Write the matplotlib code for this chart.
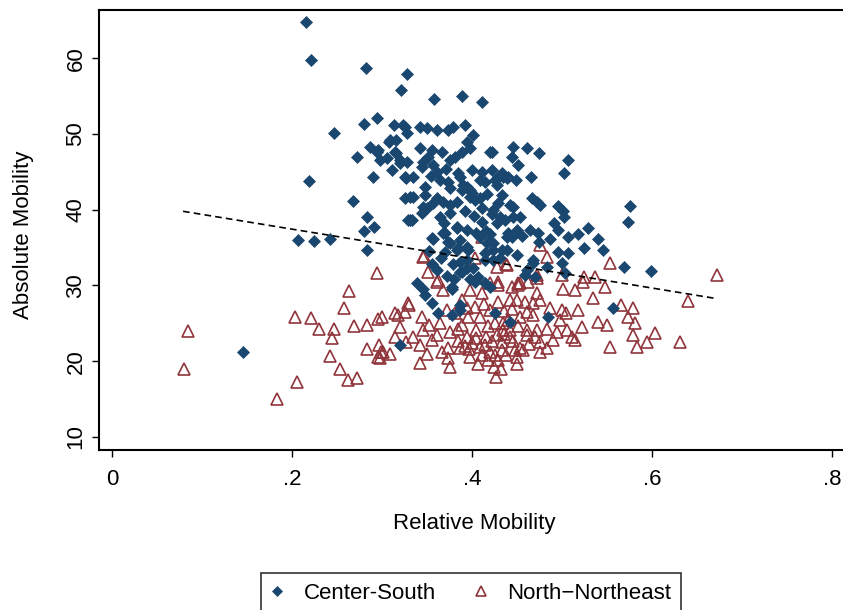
import numpy as np
import matplotlib.pyplot as plt

plt.rcParams['font.family'] = ['Liberation Sans', 'DejaVu Sans']

# (relative mobility, absolute mobility)
center_south = [
    (0.216, 64.8), (0.221, 59.8), (0.282, 58.8), (0.328, 57.9), (0.321, 55.8), (0.358, 54.6),
    (0.389, 55.1), (0.411, 54.2), (0.247, 50.2), (0.219, 43.8), (0.207, 36.0), (0.224, 35.9),
    (0.242, 36.1), (0.146, 21.2), (0.320, 22.1),
    (0.507, 46.6), (0.502, 44.9), (0.576, 40.5), (0.573, 38.4), (0.599, 31.9), (0.569, 32.5),
    (0.557, 27.0), (0.546, 34.7), (0.540, 36.2), (0.529, 37.6), (0.518, 36.8), (0.524, 35.0),
    (0.507, 36.4), (0.507, 34.3), (0.496, 34.4), (0.500, 33.0), (0.446, 48.3), (0.461, 48.2),
    (0.475, 47.5), (0.444, 47.0), (0.451, 45.9), (0.433, 44.9), (0.440, 44.3), (0.449, 43.9),
    (0.466, 44.3), (0.467, 41.5), (0.472, 41.0), (0.476, 40.6), (0.496, 40.5), (0.501, 39.8),
    (0.502, 39.0), (0.491, 38.2), (0.496, 37.3), (0.453, 39.0), (0.437, 38.6), (0.444, 36.4),
    (0.456, 36.6), (0.464, 37.3), (0.473, 36.9), (0.474, 35.7), (0.487, 36.2), (0.450, 34.0),
    (0.468, 33.3), (0.483, 32.5), (0.459, 31.4), (0.433, 34.7),
    (0.294, 52.1), (0.313, 51.2), (0.323, 51.2), (0.328, 50.1), (0.309, 49.2), (0.316, 49.2),
    (0.342, 50.9), (0.350, 50.8), (0.361, 50.5), (0.373, 50.5), (0.379, 50.9), (0.392, 51.2),
    (0.401, 49.9), (0.394, 48.9), (0.398, 48.1), (0.389, 47.6), (0.381, 47.0), (0.376, 46.6),
    (0.342, 48.1), (0.356, 47.9), (0.367, 47.6), (0.351, 47.0), (0.346, 46.3), (0.344, 45.7),
    (0.357, 45.9), (0.361, 45.0), (0.364, 43.9), (0.373, 43.7), (0.376, 42.9), (0.387, 44.3),
    (0.390, 43.3), (0.400, 45.2), (0.411, 45.0), (0.422, 45.2), (0.422, 47.6), (0.414, 43.7),
    (0.428, 43.3), (0.287, 48.3), (0.294, 47.6), (0.298, 46.6), (0.306, 46.8), (0.314, 47.6),
    (0.320, 46.6), (0.328, 46.3), (0.311, 45.2), (0.326, 44.3), (0.334, 44.3), (0.290, 44.3),
    (0.331, 41.7), (0.348, 43.0), (0.348, 41.9), (0.361, 41.5), (0.368, 41.0), (0.389, 42.6),
    (0.398, 42.6), (0.398, 41.7), (0.409, 41.5), (0.346, 40.4), (0.357, 40.9), (0.376, 40.6),
    (0.383, 41.0), (0.280, 51.4), (0.296, 47.9), (0.308, 49.0), (0.272, 47.0), (0.316, 47.5),
    (0.268, 41.1), (0.283, 39.0), (0.291, 37.7), (0.280, 37.2), (0.283, 34.7),
    (0.333, 38.7), (0.357, 36.2), (0.368, 36.9), (0.373, 35.7), (0.383, 37.7), (0.394, 37.3),
    (0.384, 35.0), (0.379, 32.9), (0.389, 31.8), (0.396, 34.7), (0.411, 38.4), (0.409, 36.4),
    (0.417, 35.6), (0.428, 38.2), (0.440, 36.9), (0.461, 32.1), (0.423, 34.7), (0.431, 33.6),
    (0.394, 33.4), (0.401, 32.3), (0.414, 33.4), (0.339, 30.3), (0.378, 29.8), (0.361, 32.1),
    (0.442, 40.6), (0.431, 39.0), (0.407, 31.1), (0.414, 30.3), (0.348, 28.8), (0.356, 27.7),
    (0.362, 26.4), (0.387, 27.4), (0.426, 26.3), (0.484, 25.8), (0.442, 25.2), (0.387, 26.8),
    (0.409, 43.9), (0.426, 43.9), (0.434, 44.3), (0.420, 47.6), (0.429, 44.3), (0.439, 44.2),
    (0.394, 43.0), (0.400, 42.2), (0.403, 41.3), (0.411, 40.2), (0.422, 39.5), (0.331, 38.7),
    (0.344, 39.6), (0.350, 40.2), (0.364, 39.0), (0.376, 39.6), (0.356, 36.3), (0.370, 36.9),
    (0.383, 37.6), (0.376, 35.6), (0.387, 36.0), (0.394, 35.1), (0.383, 34.7), (0.387, 33.1),
    (0.387, 31.8), (0.394, 32.3), (0.403, 30.5), (0.346, 29.6), (0.378, 29.6), (0.414, 34.3),
    (0.423, 33.4), (0.439, 34.7), (0.429, 40.9), (0.423, 40.0), (0.446, 40.4), (0.446, 39.0),
    (0.450, 37.3), (0.439, 36.4), (0.423, 35.6), (0.326, 41.6), (0.334, 41.7), (0.327, 44.2),
    (0.329, 38.7), (0.320, 46.2), (0.326, 50.9), (0.420, 29.8), (0.403, 30.7), (0.470, 31.1),
    (0.503, 31.6), (0.468, 33.0), (0.378, 26.1),
    (0.366, 33.6), (0.372, 31.2), (0.380, 30.9), (0.398, 30.8), (0.369, 38.2), (0.402, 39.2),
    (0.392, 39.9), (0.416, 37.2), (0.404, 36.9), (0.420, 36.8), (0.384, 44.9), (0.371, 45.4),
    (0.355, 44.4), (0.417, 42.1), (0.433, 41.9), (0.370, 34.4), (0.352, 34.5), (0.356, 32.9),
]

north_northeast = [
    (0.084, 24.0), (0.080, 18.9), (0.183, 15.0), (0.206, 17.3), (0.203, 25.8), (0.221, 25.7),
    (0.230, 24.2), (0.247, 24.2), (0.244, 23.1), (0.263, 29.3), (0.258, 27.0), (0.269, 24.6),
    (0.242, 20.7), (0.253, 19.0), (0.262, 17.5), (0.272, 17.8),
    (0.294, 31.6), (0.296, 25.6), (0.318, 26.1), (0.330, 27.4), (0.283, 21.6), (0.297, 22.1),
    (0.299, 21.2), (0.296, 20.5), (0.347, 33.9), (0.327, 22.5), (0.283, 24.8),
    (0.411, 36.4), (0.346, 33.8), (0.351, 31.8), (0.361, 30.5), (0.403, 33.6), (0.428, 32.5),
    (0.439, 32.7), (0.420, 30.3), (0.429, 30.5), (0.451, 30.3), (0.462, 30.5),
    (0.476, 35.4), (0.483, 33.8), (0.438, 32.9), (0.553, 33.0), (0.472, 31.4), (0.500, 31.4),
    (0.524, 31.1), (0.537, 31.1),
    (0.672, 31.4), (0.640, 27.9), (0.451, 30.1), (0.472, 31.0), (0.501, 29.6), (0.514, 29.4),
    (0.523, 30.4), (0.548, 29.8), (0.535, 28.3), (0.566, 27.4), (0.579, 27.0), (0.573, 25.8),
    (0.581, 25.0), (0.579, 23.4), (0.603, 23.7), (0.594, 22.5), (0.583, 21.9), (0.553, 21.9),
    (0.631, 22.5), (0.540, 25.2), (0.550, 24.8), (0.518, 26.7), (0.500, 26.7), (0.487, 27.0),
    (0.476, 28.1), (0.472, 29.0), (0.459, 27.8), (0.442, 28.1), (0.453, 25.8), (0.434, 25.0),
    (0.442, 24.1), (0.461, 23.4), (0.470, 23.2), (0.483, 24.3), (0.494, 23.8), (0.506, 24.1),
    (0.511, 23.2), (0.522, 24.5), (0.514, 22.8), (0.490, 22.8), (0.476, 21.2), (0.483, 21.7),
    (0.453, 21.7), (0.450, 19.6), (0.468, 26.1), (0.498, 25.5), (0.505, 26.4), (0.433, 21.5),
    (0.300, 25.8), (0.314, 26.4), (0.329, 27.7), (0.326, 26.5), (0.344, 25.8), (0.314, 23.2),
    (0.334, 23.2), (0.346, 24.1), (0.342, 22.1), (0.350, 21.0), (0.356, 22.8), (0.367, 21.2),
    (0.373, 20.4), (0.376, 19.2), (0.362, 30.7), (0.368, 29.4), (0.372, 26.8), (0.381, 26.3),
    (0.376, 23.9), (0.384, 24.3), (0.387, 21.7), (0.394, 23.2), (0.400, 22.4), (0.405, 24.1),
    (0.409, 21.9), (0.416, 23.2), (0.420, 21.2), (0.426, 20.8), (0.429, 20.2), (0.427, 17.9),
    (0.411, 20.8), (0.398, 20.6), (0.396, 25.8), (0.409, 25.8), (0.403, 27.1), (0.389, 28.1),
    (0.398, 29.4), (0.411, 29.0), (0.429, 30.1), (0.429, 27.8), (0.420, 26.8), (0.426, 25.0),
    (0.434, 24.1), (0.440, 25.5), (0.442, 23.2), (0.433, 22.5), (0.448, 21.5), (0.457, 21.5),
    (0.461, 24.1), (0.472, 24.1), (0.476, 22.5), (0.461, 26.5), (0.450, 28.1), (0.468, 27.7),
    (0.453, 30.3), (0.444, 29.8), (0.301, 21.2), (0.298, 20.4),
    (0.342, 19.8), (0.373, 21.8), (0.361, 23.5), (0.352, 24.8), (0.320, 24.5), (0.309, 21.0),
    (0.450, 20.5), (0.365, 25.0), (0.395, 27.0),
    (0.392, 22.0), (0.404, 23.0), (0.414, 22.2), (0.422, 22.6), (0.418, 24.6), (0.428, 23.5),
    (0.436, 23.6), (0.446, 22.6), (0.438, 20.8), (0.418, 20.2), (0.407, 19.6), (0.397, 21.6),
    (0.389, 24.8), (0.413, 27.6), (0.436, 26.6), (0.451, 24.6), (0.463, 22.3), (0.444, 26.9),
    (0.384, 22.6), (0.424, 19.2), (0.432, 19.0),
]

# fitted line ends
fit_x = [0.079, 0.670]
fit_y = [39.8, 28.3]

xticks = [0, 0.2, 0.4, 0.6, 0.8]
xtick_labels = ["0", ".2", ".4", ".6", ".8"]
yticks = [10, 20, 30, 40, 50, 60]

navy = "#1a476f"
maroon = "#90353b"

cs = np.array(center_south)
nne = np.array(north_northeast)

fig = plt.figure(figsize=(8.43, 6.10), dpi=100)
ax = fig.add_axes([99 / 843, 1 - 450 / 610, 751 / 843, 440 / 610])

h2, = ax.plot(nne[:, 0], nne[:, 1], ls="none", marker="^", ms=8.2, mfc="none",
              mec=maroon, mew=1.2)
h1, = ax.plot(cs[:, 0], cs[:, 1], ls="none", marker="D", ms=5.8, mfc=navy,
              mec=navy, mew=0.5)
ax.plot(fit_x, fit_y, color="black", lw=1.2, dashes=(4, 2.5))

ax.set_xlim(-0.0144, 0.82)
ax.set_ylim(8.26, 66.4)
ax.set_xticks(xticks)
ax.set_xticklabels(xtick_labels)
ax.set_yticks(yticks)
ax.set_yticklabels([str(v) for v in yticks], rotation=90, va="center")
ax.tick_params(direction="out", length=5, width=1, labelsize=16)
ax.tick_params(axis="x", pad=9)
ax.tick_params(axis="y", pad=4)
for s in ax.spines.values():
    s.set_linewidth(1.5)

ax.set_xlabel("Relative Mobility", fontsize=16)
ax.set_ylabel("Absolute Mobility", fontsize=16)
ax.xaxis.set_label_coords(0.5, -0.143)
ax.yaxis.set_label_coords(-0.087, 0.49)

leg = fig.legend([h1, h2], ["Center-South", "North\u2212Northeast"],
                 loc="upper center", bbox_to_anchor=(471 / 843, 1 - 573 / 610),
                 ncol=2, fontsize=16, frameon=True, fancybox=False,
                 edgecolor="black", borderpad=0.45, handlelength=0.6,
                 handletextpad=0.9, columnspacing=1.7, borderaxespad=0,
                 markerscale=0.8)
leg.get_frame().set_linewidth(1.2)

fig.savefig("out.png", dpi=100)
